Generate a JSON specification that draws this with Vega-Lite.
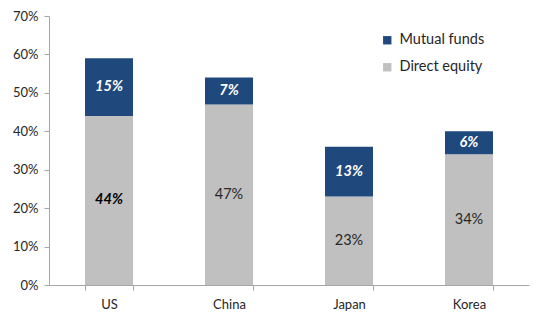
{
  "$schema": "https://vega.github.io/schema/vega-lite/v6.json",
  "autosize": "none",
  "width": 480,
  "height": 269,
  "padding": {"left": 49, "top": 16, "right": 8, "bottom": 37},
  "background": "white",
  "config": {
    "view": {"stroke": null},
    "font": "Lato",
    "axis": {"labelFont": "Lato", "labelFontSize": 13, "labelColor": "#262626", "domainColor": "#a6a6a6", "tickColor": "#a6a6a6", "grid": false, "title": null},
    "axisY": {"format": ".0%", "values": [0, 0.1, 0.2, 0.3, 0.4, 0.5, 0.6, 0.7], "labelOverlap": false, "tickSize": 5, "labelPadding": 6}
  },
  "data": {
    "values": [
      {"country": "US", "type": "Direct equity", "value": 0.44},
      {"country": "US", "type": "Mutual funds", "value": 0.15},
      {"country": "China", "type": "Direct equity", "value": 0.47},
      {"country": "China", "type": "Mutual funds", "value": 0.07},
      {"country": "Japan", "type": "Direct equity", "value": 0.23},
      {"country": "Japan", "type": "Mutual funds", "value": 0.13},
      {"country": "Korea", "type": "Direct equity", "value": 0.34},
      {"country": "Korea", "type": "Mutual funds", "value": 0.06}
    ]
  },
  "transform": [
    {"stack": "value", "groupby": ["country"], "sort": [{"field": "type", "order": "ascending"}], "as": ["v0", "v1"]},
    {"calculate": "(datum.v0 + datum.v1) / 2", "as": "mid"}
  ],
  "encoding": {
    "x": {
      "field": "country", "type": "nominal", "sort": ["US", "China", "Japan", "Korea"],
      "scale": {"paddingInner": 0.6, "paddingOuter": 0.3},
      "axis": {"labelAngle": 0, "tickBand": "extent", "tickSize": 5, "labelPadding": 8, "domainWidth": 1}
    }
  },
  "layer": [
    {
      "mark": {"type": "bar"},
      "encoding": {
        "y": {"field": "v0", "type": "quantitative", "scale": {"domain": [0, 0.7]},
          "axis": {"format": ".0%", "values": [0, 0.1, 0.2, 0.3, 0.4, 0.5, 0.6, 0.7], "labelOverlap": false}},
        "y2": {"field": "v1"},
        "color": {
          "field": "type", "type": "nominal",
          "scale": {"domain": ["Mutual funds", "Direct equity"], "range": ["#1F497D", "#C0C0C0"]},
          "legend": {
            "title": null, "orient": "none", "legendX": 331, "legendY": 17,
            "symbolType": "square", "symbolSize": 70, "symbolStrokeWidth": 0,
            "labelFont": "Lato", "labelFontSize": 14.5, "labelColor": "#262626", "labelOffset": 5,
            "rowPadding": 12, "padding": 0
          }
        }
      }
    },
    {
      "transform": [{"filter": "datum.type === 'Mutual funds'"}],
      "mark": {"type": "text", "color": "white", "fontWeight": "bold", "fontStyle": "italic", "fontSize": 14.5, "font": "Lato"},
      "encoding": {
        "y": {"field": "mid", "type": "quantitative", "axis": {"format": ".0%", "values": [0, 0.1, 0.2, 0.3, 0.4, 0.5, 0.6, 0.7], "labelOverlap": false}},
        "text": {"field": "value", "type": "quantitative", "format": ".0%"}
      }
    },
    {
      "transform": [{"filter": "datum.type === 'Direct equity' && datum.country === 'US'"}],
      "mark": {"type": "text", "color": "black", "fontWeight": "bold", "fontStyle": "italic", "fontSize": 14.5, "font": "Lato"},
      "encoding": {
        "y": {"field": "mid", "type": "quantitative", "axis": {"format": ".0%", "values": [0, 0.1, 0.2, 0.3, 0.4, 0.5, 0.6, 0.7], "labelOverlap": false}},
        "text": {"field": "value", "type": "quantitative", "format": ".0%"}
      }
    },
    {
      "transform": [{"filter": "datum.type === 'Direct equity' && datum.country !== 'US'"}],
      "mark": {"type": "text", "color": "#262626", "fontSize": 14.5, "font": "Lato"},
      "encoding": {
        "y": {"field": "mid", "type": "quantitative", "axis": {"format": ".0%", "values": [0, 0.1, 0.2, 0.3, 0.4, 0.5, 0.6, 0.7], "labelOverlap": false}},
        "text": {"field": "value", "type": "quantitative", "format": ".0%"}
      }
    }
  ]
}
